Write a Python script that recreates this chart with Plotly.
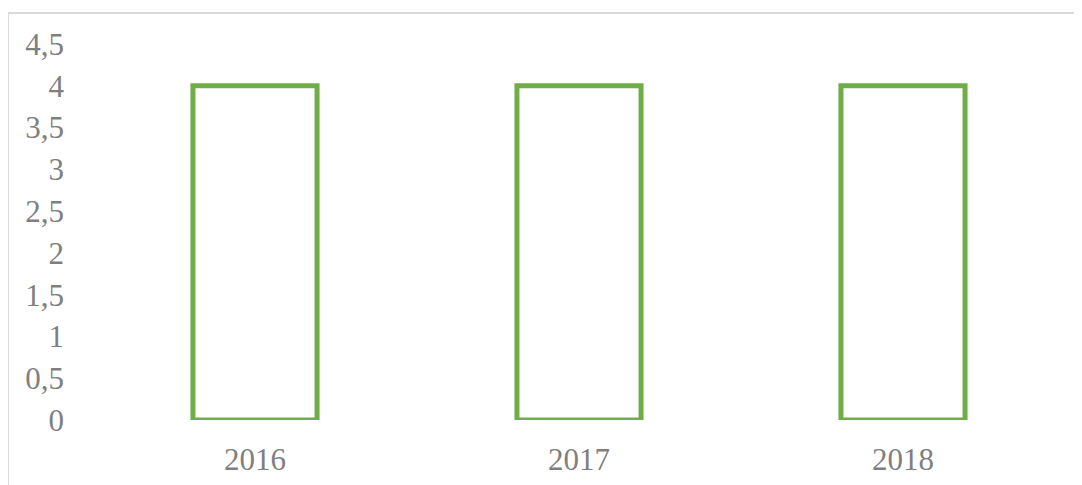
import plotly.graph_objects as go

years = ["2016", "2017", "2018"]
values = [4, 4, 4]
y_ticks = [0, 0.5, 1, 1.5, 2, 2.5, 3, 3.5, 4, 4.5]
y_tick_text = ["0", "0,5", "1", "1,5", "2", "2,5", "3", "3,5", "4", "4,5"]

fig = go.Figure()
fig.add_trace(go.Bar(
    x=years, y=values,
    width=0.383,
    marker=dict(color="rgba(0,0,0,0)", line=dict(color="#70AD47", width=5)),
))

font = dict(family="Liberation Serif, Times New Roman, serif", size=31, color="#7f7f7f")

# page has an 8px body margin, so the figure is 8px smaller on each axis
fig.update_layout(
    width=1074, height=477,
    margin=dict(l=85, r=17, t=36, b=65, autoexpand=False),
    paper_bgcolor="white", plot_bgcolor="white",
    showlegend=False,
    font=font,
    xaxis=dict(showgrid=False, showline=False, zeroline=False, ticks="",
               tickfont=font, ticklabelstandoff=18, automargin=False),
    yaxis=dict(range=[0, 4.5], tickvals=y_ticks, ticktext=y_tick_text,
               showgrid=False, showline=False, zeroline=False, ticks="",
               tickfont=font, ticklabelstandoff=28, automargin=False),
    shapes=[dict(type="rect", xref="paper", yref="paper",
                 x0=-85/972, x1=1.2, y0=-0.5, y1=1 + 31/376,
                 line=dict(color="#d9d9d9", width=2), fillcolor="rgba(0,0,0,0)",
                 layer="below")],
)

fig.write_html("out.html")
